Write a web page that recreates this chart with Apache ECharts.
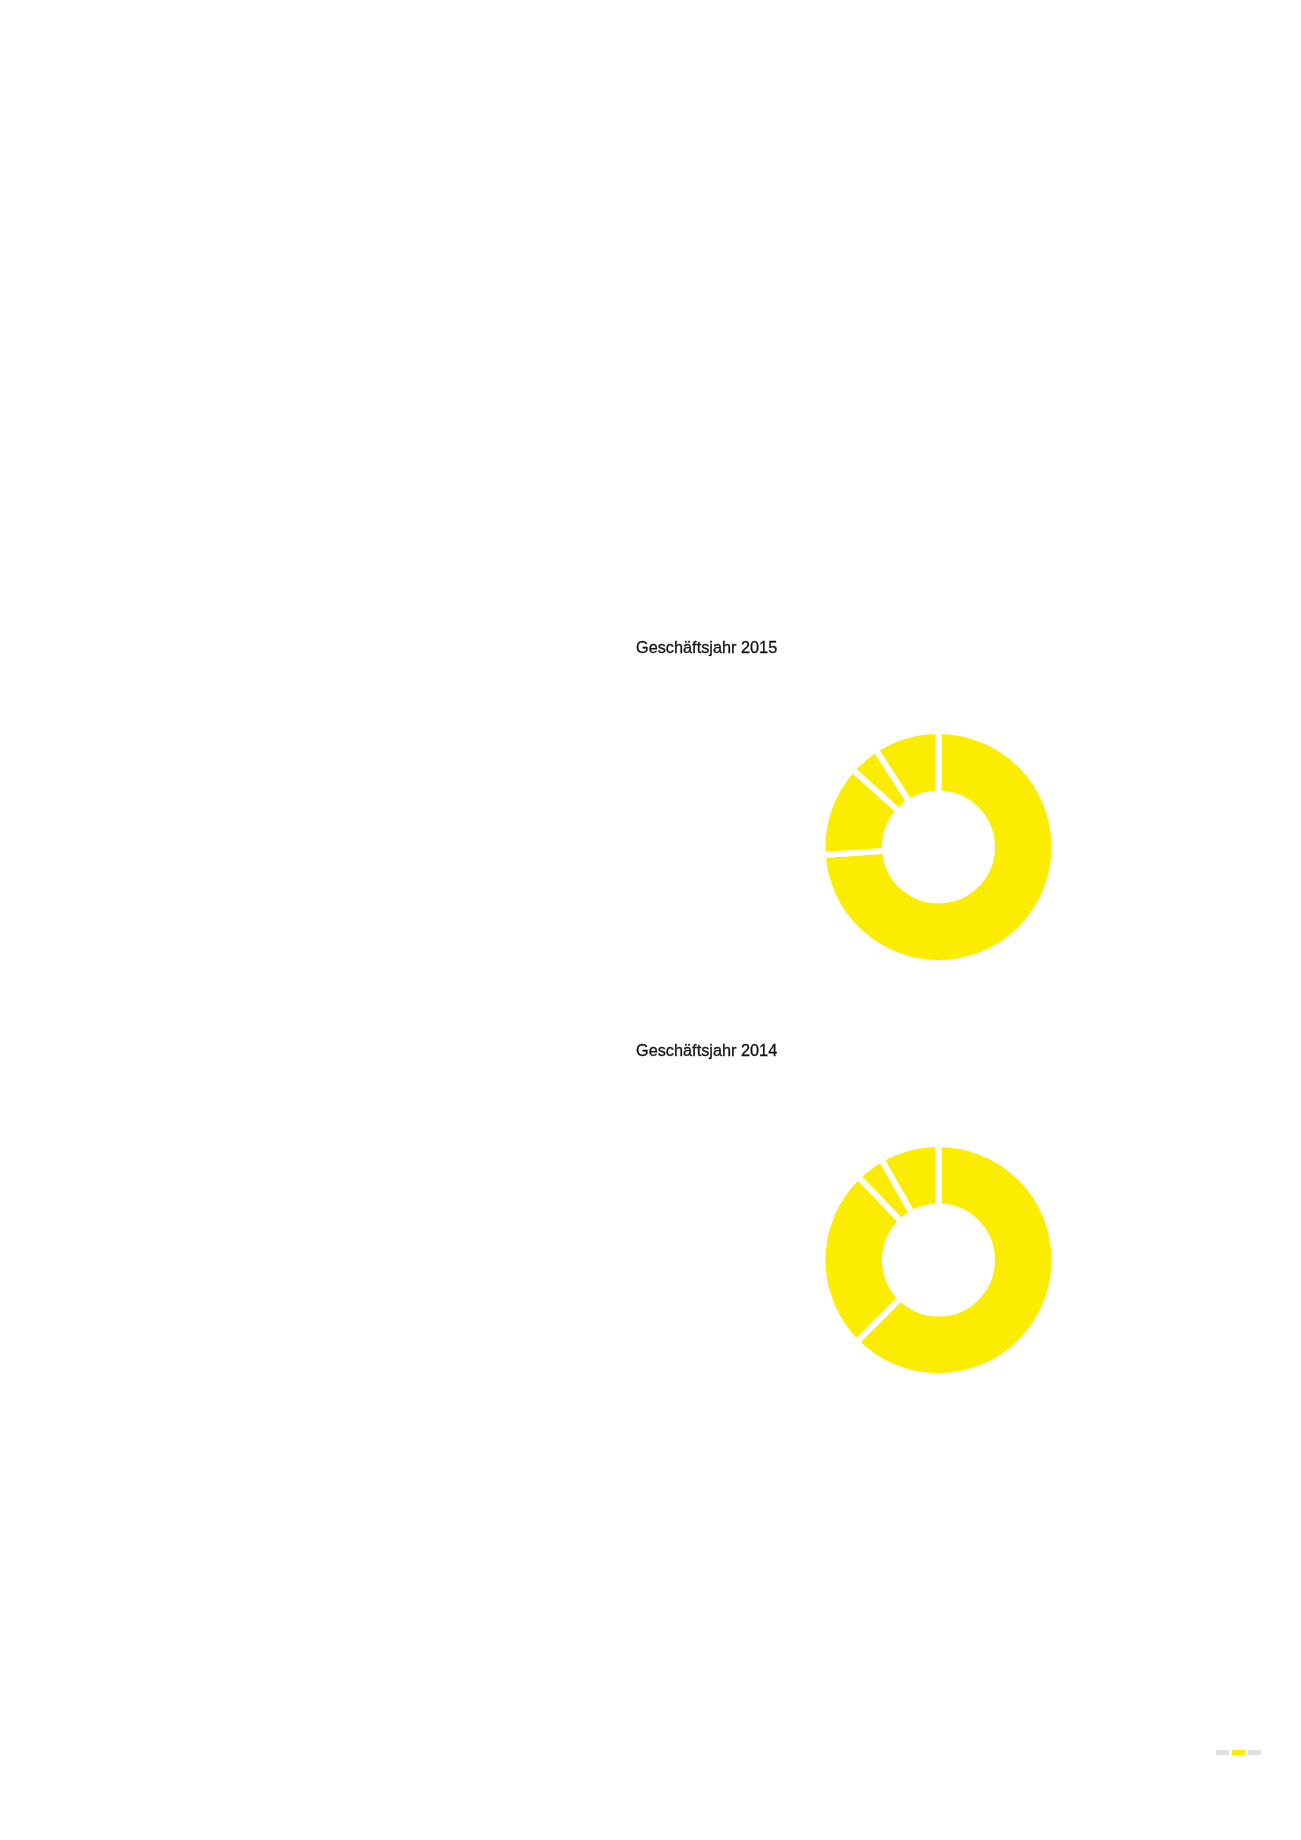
<!DOCTYPE html>
<html>
<head>
<meta charset="utf-8">
<script src="https://cdn.jsdelivr.net/npm/echarts@6/dist/echarts.min.js"></script>
<style>
  html, body { margin: 0; padding: 0; background: #fff; }
  #chart { width: 1301px; height: 1840px; }
</style>
</head>
<body>
<div id="chart"></div>
<script>
const years = ['Geschäftsjahr 2015', 'Geschäftsjahr 2014'];

// shares in percent, clockwise from 12 o'clock
const segments = ['A', 'B', 'C', 'D'];
const values2015 = [73.9, 12.8, 4.2, 9.1];
const values2014 = [62.5, 25.3, 4.0, 8.2];

const yellow = '#fcec00';
const centers = [[938.5, 847], [938.5, 1260]];

const chart = echarts.init(document.getElementById('chart'));

const toData = (vals) => vals.map((v, i) => ({ name: segments[i], value: v }));

const donut = (vals, center) => ({
    type: 'pie',
    center: center,
    radius: [53.5, 116],
    startAngle: 90,
    clockwise: true,
    silent: true,
    label: { show: false },
    labelLine: { show: false },
    emphasis: { disabled: true },
    itemStyle: {
        color: yellow,
        borderColor: '#ffffff',
        borderWidth: 6
    },
    data: toData(vals)
});

const titleStyle = {
    color: '#111111', fontSize: 16.3, fontWeight: 'normal', fontFamily: 'Liberation Sans',
    textBorderColor: '#111111', textBorderWidth: 0.3
};

const option = {
    backgroundColor: '#ffffff',
    animation: false,
    title: [
        { text: years[0], left: 636, top: 640.5, padding: 0, textStyle: titleStyle },
        { text: years[1], left: 636, top: 1043.5, padding: 0, textStyle: titleStyle }
    ],
    series: [
        donut(values2015, centers[0]),
        donut(values2014, centers[1])
    ],
    graphic: [
        { type: 'rect', shape: { x: 1216, y: 1750, width: 13, height: 5 }, style: { fill: '#e0e0e0' } },
        { type: 'rect', shape: { x: 1232, y: 1750, width: 13, height: 5 }, style: { fill: yellow } },
        { type: 'rect', shape: { x: 1248, y: 1750, width: 13, height: 5 }, style: { fill: '#e0e0e0' } }
    ]
};

chart.setOption(option);
</script>
</body>
</html>
